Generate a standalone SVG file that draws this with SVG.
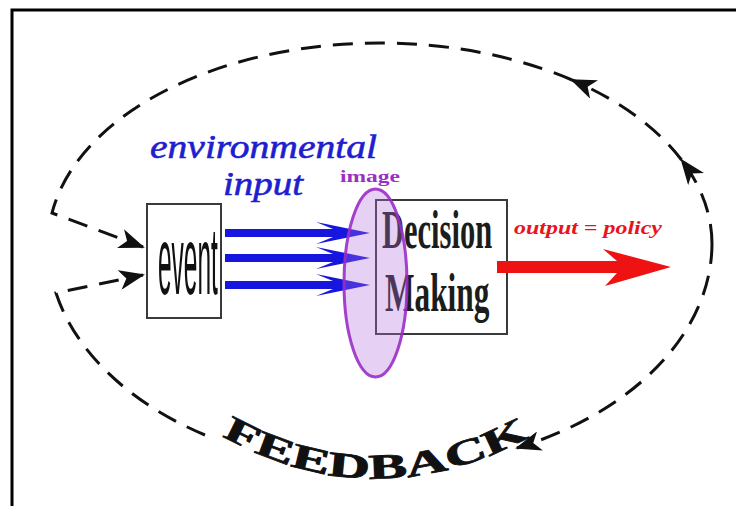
<svg xmlns="http://www.w3.org/2000/svg" width="736" height="506" viewBox="0 0 736 506">
<defs>
<style>
.loop{fill:none;stroke:#111;stroke-width:3;stroke-dasharray:20 12}
.box{fill:#fff;stroke:#3a3a3a;stroke-width:2}
.serif{font-family:"Liberation Serif","Times New Roman",serif}
.sans{font-family:"Liberation Sans",Arial,sans-serif}
.blue{fill:#1616de}
</style>
<marker id="ah" markerUnits="userSpaceOnUse" viewBox="0 0 26 20" refX="24" refY="10" markerWidth="26" markerHeight="20" orient="auto">
<path d="M0,0 L26,10 L0,20 L7,10 Z" fill="#111"/>
</marker>
</defs>
<rect width="736" height="506" fill="#fff"/>
<g id="frame" stroke="#000" stroke-width="3" fill="none">
<path d="M12,506 L12,10 L736,10"/>
</g>
<g id="connectors">
<path class="loop" d="M712,244 A332,201 0 0 0 681.6,160" marker-end="url(#ah)"/>
<path class="loop" d="M681.6,160 A332,201 0 0 0 572,80" marker-end="url(#ah)"/>
<path class="loop" d="M572,80 A332,201 0 0 0 52,213 L143,247" marker-end="url(#ah)"/>
<path class="loop" d="M712,244 A332,225 0 0 1 517,448" marker-end="url(#ah)"/>
<path class="loop" d="M205,435 A332,225 0 0 1 56,293 L143,275" marker-end="url(#ah)"/>
<g id="input-arrows" class="blue">
<path d="M225,229 L333,229 L316,222 L370,233 L316,244 L333,237 L225,237 Z"/>
<path d="M225,254 L333,254 L316,247 L370,258 L316,269 L333,262 L225,262 Z"/>
<path d="M225,281 L333,281 L316,274 L370,285 L316,296 L333,289 L225,289 Z"/>
</g>
</g>
<g id="event">
<rect class="box" x="147" y="204" width="74" height="114"/>
<text class="sans" transform="translate(158,294) scale(0.255,1)" x="0" y="0" font-size="96" fill="#111">event</text>
</g>
<g id="decision">
<rect class="box" x="376" y="200" width="131" height="134"/>
<text class="serif" transform="translate(382,248) scale(0.565,1)" x="0" y="0" font-size="54" font-weight="bold" fill="#1c1c1c">Decision</text>
<text class="serif" transform="translate(385,311) scale(0.58,1)" x="0" y="0" font-size="54" font-weight="bold" fill="#1c1c1c">Making</text>
</g>
<g id="image">
<ellipse cx="375.5" cy="283" rx="31.5" ry="94" fill="#b070e0" fill-opacity="0.32" stroke="#9a2ec8" stroke-opacity="0.9" stroke-width="3"/>
<text class="serif" x="340" y="182" font-size="16" font-weight="bold" textLength="60" lengthAdjust="spacingAndGlyphs" fill="#9b2fc4">image</text>
</g>
<g id="output">
<path d="M497,261 L617,261 L603,249 L671,267 L605,286 L617,273 L497,273 Z" fill="#ee1212"/>
<text class="serif" x="514" y="234" font-size="19" font-weight="bold" font-style="italic" textLength="148" lengthAdjust="spacingAndGlyphs" fill="#e8141c">output = policy</text>
</g>
<g id="labels">
<text class="serif" x="150" y="158" font-size="34" font-style="italic" textLength="227" lengthAdjust="spacingAndGlyphs" fill="#1e1ed0" stroke="#1e1ed0" stroke-width="0.6">environmental</text>
<text class="serif" x="223" y="195" font-size="34" font-style="italic" textLength="80" lengthAdjust="spacingAndGlyphs" fill="#1e1ed0" stroke="#1e1ed0" stroke-width="0.6">input</text>
<path id="fbpath" d="M222,436 Q380,524 542,430" fill="none"/>
<text class="serif" font-size="35" font-weight="bold" fill="#111" stroke="#111" stroke-width="0.8"><textPath href="#fbpath" textLength="322" lengthAdjust="spacingAndGlyphs">FEEDBACK</textPath></text>
</g>
</svg>
